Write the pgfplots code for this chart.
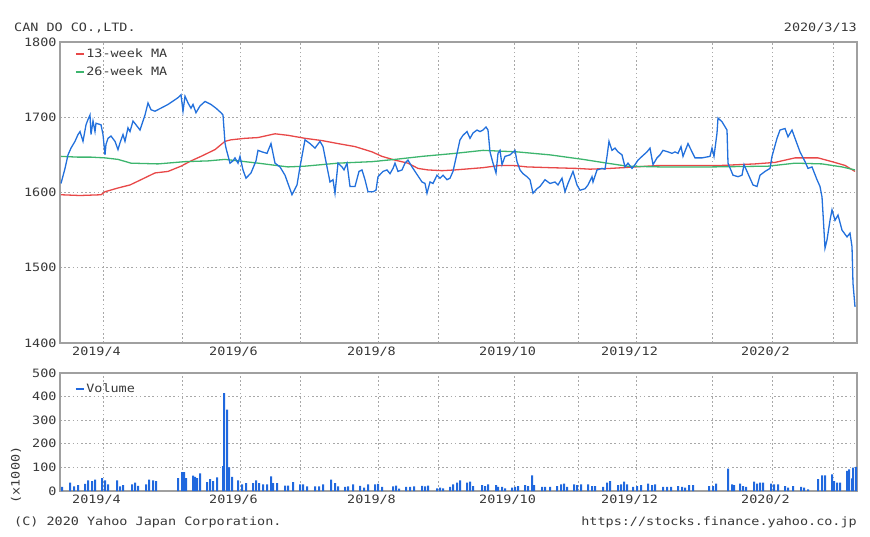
\documentclass[border=0pt]{standalone}
\usepackage{fontspec}
\setmainfont[FakeStretch=1.17]{DejaVu Sans Mono}
\usepackage{pgfplots}
\pgfplotsset{compat=1.18}
\definecolor{txt}{HTML}{383838}
\definecolor{pricec}{HTML}{2270DC}
\definecolor{ma13}{HTML}{E84848}
\definecolor{ma26}{HTML}{3DB56E}
\definecolor{volc}{HTML}{2068DE}
\definecolor{gridc}{HTML}{A8A8A8}
\definecolor{framec}{HTML}{A0A0A0}
\newcommand{\cf}{\fontsize{11.5}{13}\selectfont}

\pgfplotstableread{
x y
1 1612
5 1632
8 1650
11 1659
15 1668
18 1677
20 1681
23 1668
26 1690
28 1697
30 1703
31 1677
33 1695
35 1681
36 1692
41 1690
43 1677
45 1650
46 1664
48 1672
51 1675
55 1668
58 1657
60 1666
63 1677
65 1668
68 1686
70 1681
73 1695
76 1690
80 1683
83 1695
85 1703
88 1719
91 1710
95 1708
108 1717
118 1726
121 1730
123 1708
125 1728
128 1719
131 1712
133 1717
136 1706
140 1715
145 1721
151 1717
156 1712
161 1706
163 1703
165 1666
166 1659
170 1639
173 1642
175 1646
178 1639
180 1648
183 1630
186 1619
191 1626
196 1642
198 1656
202 1654
207 1652
211 1665
215 1639
220 1634
225 1623
232 1597
237 1610
240 1634
245 1670
250 1665
255 1659
260 1668
263 1661
267 1634
270 1614
273 1617
275 1599
278 1639
282 1634
284 1630
287 1639
290 1608
295 1608
299 1628
302 1630
305 1617
308 1601
313 1601
316 1603
318 1621
323 1628
327 1630
330 1625
333 1632
335 1639
338 1628
342 1630
345 1639
348 1643
352 1634
355 1628
362 1614
365 1612
367 1599
370 1614
373 1612
377 1623
380 1619
383 1623
387 1617
390 1619
393 1628
397 1652
400 1670
403 1676
407 1681
410 1672
413 1679
417 1683
420 1681
423 1683
426 1687
428 1683
430 1654
433 1639
436 1626
438 1652
440 1656
442 1637
445 1648
450 1650
455 1656
457 1641
460 1630
463 1625
467 1621
470 1617
473 1599
477 1605
480 1608
485 1617
490 1612
495 1614
498 1610
502 1619
505 1601
508 1612
513 1628
517 1610
520 1603
525 1605
528 1610
532 1621
533 1614
537 1630
542 1632
545 1631
547 1648
549 1668
552 1656
555 1659
558 1654
562 1650
565 1634
568 1639
572 1632
575 1637
578 1643
582 1648
587 1654
590 1659
593 1637
597 1646
600 1650
603 1656
608 1654
612 1652
615 1654
618 1652
621 1661
623 1648
628 1665
632 1654
635 1646
642 1646
650 1648
652 1659
654 1648
657 1679
658 1699
662 1694
667 1683
668 1639
673 1623
678 1621
682 1623
684 1637
688 1625
693 1610
697 1608
700 1623
705 1628
710 1632
712 1648
717 1672
720 1683
725 1685
728 1674
732 1683
735 1672
740 1654
745 1641
748 1632
752 1634
757 1617
760 1608
762 1594
763 1572
765 1526
767 1537
770 1563
772 1577
775 1563
778 1570
782 1550
787 1541
790 1546
792 1528
793 1479
795 1448
}\price

\pgfplotstableread{
x y
1 1597
20 1596
41 1597
45 1601
58 1606
70 1610
81 1617
95 1626
108 1628
121 1635
131 1642
141 1648
155 1657
165 1668
171 1670
185 1672
198 1673
215 1678
228 1676
245 1672
262 1669
278 1665
295 1661
312 1654
322 1648
335 1643
348 1639
358 1632
368 1630
382 1629
395 1630
423 1633
440 1636
453 1636
467 1634
490 1633
517 1632
530 1631
550 1632
563 1633
600 1636
625 1636
662 1636
695 1638
715 1640
735 1646
758 1646
772 1641
785 1636
795 1628
}\maA

\pgfplotstableread{
x y
1 1648
18 1647
31 1647
45 1646
58 1644
71 1639
98 1638
125 1641
148 1642
165 1644
185 1641
198 1639
228 1634
245 1635
278 1639
312 1641
335 1644
362 1648
395 1652
423 1656
457 1654
490 1650
523 1644
547 1639
567 1635
600 1634
652 1634
708 1635
735 1639
762 1638
782 1634
795 1630
}\maB

\pgfplotstableread{
x v
2 17
10 35
14 20
18 25
25 30
28 45
32 42
35 48
42 55
45 45
48 28
57 45
60 20
63 25
72 28
75 35
78 22
86 28
89 48
93 45
96 42
118 55
122 80
124 80
126 55
133 65
135 60
137 55
140 75
147 38
150 50
153 42
157 58
163 105
164 415
167 345
169 100
172 60
178 45
182 28
186 33
193 33
196 45
199 33
203 28
207 28
211 62
213 33
217 33
225 23
228 23
233 38
240 28
243 28
247 20
255 20
259 20
263 28
271 48
275 33
278 20
285 17
288 20
293 28
300 22
304 14
308 28
315 28
318 30
322 17
333 20
336 23
339 10
346 17
350 17
354 20
362 22
365 20
368 23
377 11
380 14
383 11
390 17
393 28
397 35
400 45
407 35
410 40
413 21
422 25
425 21
428 28
436 25
438 17
442 17
445 11
452 14
455 17
458 21
465 25
468 21
472 66
474 25
482 17
485 17
490 17
497 21
501 28
504 31
507 17
514 28
517 25
521 28
528 28
532 21
535 21
543 17
547 35
550 42
558 25
561 28
564 40
567 28
573 17
577 21
581 25
588 31
592 25
595 28
603 17
607 17
611 17
618 21
622 17
625 14
629 25
633 25
649 21
653 21
656 31
668 95
672 28
674 25
680 31
683 21
686 17
694 40
697 31
700 35
703 35
711 31
714 28
718 28
725 21
728 14
733 21
741 17
744 14
748 7
758 50
762 66
765 66
772 70
774 42
777 35
780 35
787 85
789 92
792 54
793 99
796 102
}\vol

\pgfplotsset{
  chartbase/.style={
    scale only axis,
    width=797pt,
    xmin=0, xmax=797,
    axis line style={draw=framec, line width=1.2pt},
    grid=major,
    major grid style={draw=gridc, line width=0.9pt, dash pattern=on 1.6pt off 2.6pt},
    major tick length=0pt,
    tick style={draw=none},
    ticklabel style={font=\cf, text=txt},
    /pgf/number format/assume math mode=true,
    /pgf/number format/1000 sep={},
    xtick={43,122,180,240,318,378,454,518,576,652,712,773},
    xticklabels={2019/4,,2019/6,,2019/8,,2019/10,,2019/12,,2020/2,},
    xticklabel style={xshift=-6.5pt},
    legend cell align=left,
    legend image code/.code={\draw[#1, line width=1.6pt] (0pt,0pt) -- (8pt,0pt);},
    legend style={at={(axis description cs:0,1)}, anchor=north west, xshift=14pt, yshift=-4pt,
      draw=none, fill=none, font=\cf, text=txt, inner sep=1pt, row sep=5pt,
      nodes={inner sep=1.5pt}},
  }
}

\begin{document}
\begin{tikzpicture}[x=1pt,y=1pt]
\useasboundingbox (0pt,0pt) rectangle (870pt,536pt);

\begin{axis}[chartbase,
  at={(60pt,193pt)}, anchor=south west,
  height=301pt,
  ymin=1400, ymax=1800,
  ytick={1400,1500,1600,1700,1800},
]
\addplot[ma13, line width=1.3pt] table[x=x,y=y] {\maA};
\addlegendentry{13-week MA}
\addplot[ma26, line width=1.3pt] table[x=x,y=y] {\maB};
\addlegendentry{26-week MA}
\addplot[pricec, line width=1.3pt, forget plot] table[x=x,y=y] {\price};
\end{axis}

\begin{axis}[chartbase,
  at={(60pt,45pt)}, anchor=south west,
  height=118pt,
  ymin=0, ymax=500,
  ytick={0,100,200,300,400,500},
  legend style={yshift=-4pt},
]
\addplot[ybar, bar width=2pt, fill=volc, draw=none,
  legend image code/.code={\draw[volc, line width=1.6pt] (0pt,0pt) -- (8pt,0pt);}]
  table[x=x,y=v] {\vol};
\addlegendentry{Volume}
\end{axis}

\node[anchor=base west, text=txt, font=\cf, inner sep=0pt] at (14pt,504.5pt) {CAN DO CO.,LTD.};
\node[anchor=base east, text=txt, font=\cf, inner sep=0pt] at (857pt,504.5pt) {2020/3/13};
\node[anchor=base west, text=txt, font=\cf, inner sep=0pt] at (14pt,11pt) {(C) 2020 Yahoo Japan Corporation.};
\node[anchor=base east, text=txt, font=\cf, inner sep=0pt] at (857pt,11pt) {https://stocks.finance.yahoo.co.jp};
\node[rotate=90, text=txt, font=\cf, inner sep=0pt] at (16pt,61pt) {(x1000)};
\end{tikzpicture}
\end{document}
